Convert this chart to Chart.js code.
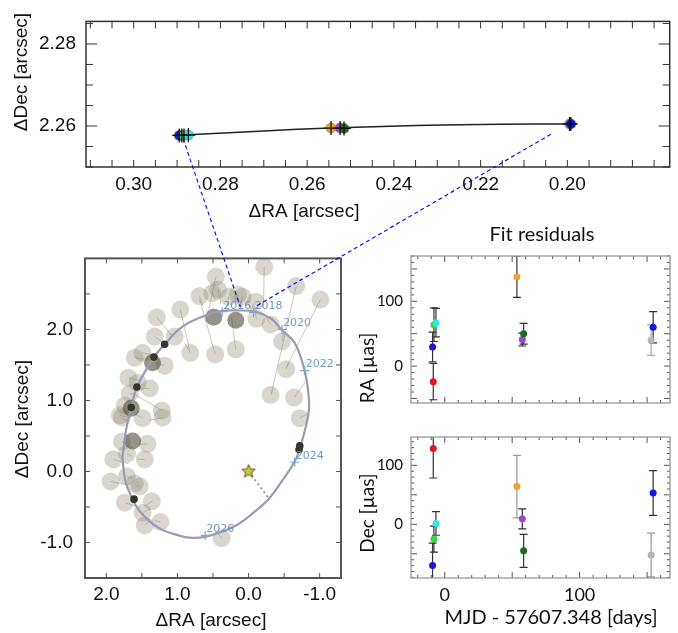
<!DOCTYPE html>
<html>
<head>
<meta charset="utf-8">
<title>Orbit fit and residuals</title>
<script src="https://cdn.jsdelivr.net/npm/chart.js@4.4.1/dist/chart.umd.min.js"></script>
<style>
  body { margin: 0; background: #fff; }
  #page { position: relative; width: 678px; height: 633px; overflow: hidden; }
  #page canvas { position: absolute; }
  #Overlay { pointer-events: none; }
</style>
</head>
<body>
<div id="page">
  <canvas id="Canvas-top"></canvas>
  <canvas id="Canvas-orbit"></canvas>
  <canvas id="Canvas-ra"></canvas>
  <canvas id="Canvas-dec"></canvas>
  <canvas id="Overlay" width="678" height="633"></canvas>
</div>
<script>
//______________________________________________________
// epochs 2016-2017 (red, blue, lime, cyan, orange, purple, dark green, gray, blue)
const EpochColors = ['#e31a1c', '#1a1acc', '#33dd33', '#2ee6ee', '#f5a020', '#a040d4', '#1d6b1d', '#b4b4b4', '#1414e6'];
const ResDays = [-8.5, -9, -8, -6.5, 53.5, 57.5, 58.5, 153, 154.5];
const RaRes   = [-24, 29.5, 64, 67, 138, 41, 50, 40, 60];
const RaErr   = [28, 23, 26, 22, 32, 10, 16, 23.5, 24];
const DecRes  = [128.5, -70, -25, 1.5, 64, 9.3, -45, -52, 53];
const DecErr  = [50, 38, 22, 20, 53, 17, 28, 37, 38];
const RaErrColors  = ['#333', '#333', '#333', '#333', '#333', '#333', '#333', '#aaa', '#333'];
const DecErrColors = ['#333', '#333', '#333', '#333', '#999', '#333', '#333', '#999', '#333'];

// zoomed positions (arcsec)
const TopRA  = [0.2889, 0.2895, 0.2884, 0.2874, 0.2545, 0.2524, 0.2515, 0.1995, 0.1992];
const TopDec = [2.2577, 2.2577, 2.2577, 2.2578, 2.2595, 2.2595, 2.2594, 2.2605, 2.2605];
const TopModelRA  = [0.2885, 0.2700, 0.2545, 0.2350, 0.2153, 0.1992];
const TopModelDec = [2.2578, 2.2588, 2.2595, 2.2601, 2.2604, 2.2605];

// orbit: older measurements (circles) and their model positions
const ObsRA  = [-0.22, 0.46, 0.69, 0.43, 0.51, 0.15, 0.08, -0.10, -0.11, -0.31, -0.67, -1.01, -0.47, -0.53, -0.31, -0.64, -0.72, 0.18, 0.47, 0.82, 0.96, 1.29, 1.04, 1.32, 1.49, 1.60, 1.18, 1.69, 1.56, 1.39, 1.67, 1.74, 1.22, 1.81, 1.49, 1.78, 1.21, 1.78, 1.42, 1.90, 1.71, 1.46, 1.94, 1.71, 1.53, 1.60, 1.74, 1.36, 1.49, 1.24, 1.46, 0.38, 0.28];
const ObsDec = [2.88, 2.74, 2.47, 2.56, 2.51, 2.49, 2.46, 2.39, 2.15, 2.07, 2.61, 2.42, 1.83, 1.44, 1.08, 1.04, 0.75, 1.72, 1.65, 1.67, 2.28, 2.17, 1.90, 1.90, 1.67, 1.60, 1.49, 1.32, 1.25, 1.17, 1.10, 0.93, 0.86, 0.79, 0.75, 0.76, 0.76, 0.42, 0.39, 0.17, 0.25, 0.17, -0.14, -0.07, -0.21, -0.17, -0.44, -0.42, -0.58, -0.71, -0.76, -0.94, 2.46];
const ModRA  = [-0.21, 0.56, 0.64, 0.39, 0.47, 0.14, 0.13, -0.03, -0.08, -0.22, -0.32, -0.53, -0.50, -0.56, -0.36, -0.81, -0.82, 0.24, 0.69, 0.90, 0.83, 1.07, 1.11, 1.22, 1.32, 1.46, 1.32, 1.53, 1.49, 1.50, 1.57, 1.63, 1.57, 1.67, 1.60, 1.69, 1.39, 1.67, 1.53, 1.69, 1.64, 1.56, 1.74, 1.63, 1.57, 1.53, 1.53, 1.46, 1.39, 1.32, 1.39, 0.44, 0.31];
const ModDec = [2.32, 2.28, 2.33, 2.36, 2.42, 2.29, 2.32, 2.28, 2.32, 2.22, 1.10, 1.46, 1.99, 1.53, 1.18, 1.28, 0.81, 2.18, 2.43, 1.81, 1.71, 1.90, 1.94, 1.83, 1.64, 1.58, 1.53, 1.28, 1.22, 1.17, 1.07, 0.90, 1.07, 0.76, 0.81, 0.69, 0.72, 0.39, 0.38, 0.11, 0.21, 0.17, -0.18, -0.10, -0.14, -0.25, -0.51, -0.49, -0.53, -0.69, -0.69, -0.86, 2.29];
const BigRA  = [0.49, 0.18, 1.35, 1.65, 1.63];
const BigDec = [2.17, 2.13, 1.53, 0.89, 0.43];
const DarkRA  = [1.18, 1.33, 1.57, 1.65, 1.61, -0.72, -0.71];
const DarkDec = [1.79, 1.61, 1.19, 0.90, -0.39, 0.36, 0.31];
const OrbitRA  = [0.17, -0.09, -0.32, -0.46, -0.65, -0.79, -0.85, -0.84, -0.72, -0.65, -0.48, -0.28, -0.07, 0.14, 0.38, 0.61, 0.80, 0.95, 1.27, 1.53, 1.65, 1.73, 1.77, 1.76, 1.72, 1.65, 1.57, 1.33, 1.18, 0.93, 0.60, 0.37, 0.17];
const OrbitDec = [2.27, 2.25, 2.15, 2.00, 1.81, 1.41, 1.02, 0.79, 0.32, 0.14, -0.12, -0.39, -0.58, -0.74, -0.85, -0.92, -0.935, -0.91, -0.79, -0.56, -0.35, -0.14, 0.18, 0.30, 0.60, 0.90, 1.19, 1.61, 1.79, 2.04, 2.20, 2.26, 2.27];
const PeriRA  = [0.0, -0.28];
const PeriDec = [0.0, -0.37];
const YearLabels = ['2016', '2018', '2020', '2022', '2024', '2026'];
const YearRA  = [0.37, -0.07, -0.47, -0.79, -0.65, 0.61];
const YearDec = [2.25, 2.24, 2.00, 1.42, 0.13, -0.90];

// dashed connectors: zoom panel point -> orbit panel point
const ConTopRA  = [0.2886, 0.2038];
const ConTopDec = [2.2569, 2.2580];
const ConOrbRA  = [0.115, -0.083];
const ConOrbDec = [2.315, 2.315];

// tick labels
const TopXTicks = [0.30, 0.28, 0.26, 0.24, 0.22, 0.20];
const TopYTicks = [2.28, 2.26];
const OrbXTicks = [2.0, 1.0, 0.0, -1.0];
const OrbYTicks = [2.0, 1.0, 0.0, -1.0];
const ResYTicks = [0, 100];
const ResXTicks = [0, 100];

//______________________________________________________
const Panes = {
  'Canvas-top':   {left: 0,   top: 0,   w: 678, h: 230, pad: {left: 0, top: 11, right: 2, bottom: 0}},
  'Canvas-orbit': {left: 0,   top: 235, w: 350, h: 398, pad: {left: 0, top: 18, right: 6, bottom: 0}},
  'Canvas-ra':    {left: 345, top: 210, w: 333, h: 210, pad: {left: 0, top: 46, right: 8, bottom: 0}},
  'Canvas-dec':   {left: 345, top: 420, w: 333, h: 213, pad: {left: 0, top: 4, right: 8, bottom: 0}}
};
const FontArial = '"Liberation Sans", Arial, sans-serif';
const FontCal = 'Lato, "Open Sans", sans-serif';

const PaneCfg = {
  'Canvas-top': {
    frame: {color: '#333', width: 1.5, xStep: 0.005, xMajor: 0.02, xLen: 7, xLenMaj: 7, yStep: 0.005, yMajor: 0.02, yLen: 7, yLenMaj: 11},
    texts: [
      {t: '\u0394Dec [arcsec]', x: 22, y: 72, rot: true, font: '19px ' + FontArial},
      {t: '\u0394RA [arcsec]', x: 304, y: 212, font: '19px ' + FontArial}
    ]
  },
  'Canvas-orbit': {
    frame: {color: '#555', width: 2, xStep: 0.5, xMajor: 1, xLen: 5, xLenMaj: 5, yStep: 0.5, yMajor: 1, yLen: 5, yLenMaj: 5},
    texts: [
      {t: '\u0394Dec [arcsec]', x: 23, y: 184, rot: true, font: '19px ' + FontArial},
      {t: '\u0394RA [arcsec]', x: 211, y: 386, font: '19px ' + FontArial}
    ],
    years: true
  },
  'Canvas-ra': {
    frame: {color: '#999', width: 1.3, tick: '#555', xStep: 10, xMajor: 50, xLen: 3, xLenMaj: 6, yStep: 10, yMajor: 50, yLen: 3, yLenMaj: 6},
    texts: [
      {t: 'Fit residuals', x: 197, y: 25, font: '20px ' + FontCal},
      {t: 'RA [\u00b5as]', x: 23, y: 158, rot: true, font: '19px ' + FontCal}
    ],
    err: {vals: RaRes, errs: RaErr, colors: RaErrColors}
  },
  'Canvas-dec': {
    frame: {color: '#999', width: 1.3, tick: '#555', xStep: 10, xMajor: 50, xLen: 3, xLenMaj: 6, yStep: 10, yMajor: 50, yLen: 3, yLenMaj: 6},
    texts: [
      {t: 'Dec [\u00b5as]', x: 23, y: 93, rot: true, font: '19px ' + FontCal},
      {t: 'MJD - 57607.348 [days]', x: 206, y: 198, font: '20px ' + FontCal}
    ],
    err: {vals: DecRes, errs: DecErr, colors: DecErrColors}
  }
};

//______________________________________________________
function pts(xs, ys) { return xs.map(function (v, i) { return {x: v, y: ys[i]}; }); }

function segs(x1, y1, x2, y2) { // obs -> model segments, broken by gaps
  var out = [];
  x1.forEach(function (v, i) {
    out.push({x: v, y: y1[i]}, {x: x2[i], y: y2[i]}, {x: x2[i], y: null});
  });
  return out;
}

function axis(min, max, vals, fmt, font, pad, size, rev) {
  return {
    type: 'linear', min: min, max: max, reverse: !!rev,
    grid: {display: false, drawTicks: false},
    border: {display: false},
    ticks: {display: vals.length > 0, padding: pad, color: '#111', autoSkip: false, maxRotation: 0,
            font: font, callback: fmt},
    afterBuildTicks: function (s) { s.ticks = vals.map(function (v) { return {value: v}; }); },
    afterFit: function (s) { if (s.isHorizontal()) { s.height = size; } else { s.width = size; } }
  };
}

function makeStar(r) {
  var c = document.createElement('canvas');
  c.width = c.height = 2 * r + 4;
  var g = c.getContext('2d');
  g.beginPath();
  for (var i = 0; i < 10; i++) {
    var rr = (i % 2) ? r * 0.45 : r;
    var a = -Math.PI / 2 + i * Math.PI / 5;
    g.lineTo(r + 2 + rr * Math.cos(a), r + 2 + rr * Math.sin(a));
  }
  g.closePath();
  g.fillStyle = '#c9c838'; g.fill();
  g.strokeStyle = '#5c5c1e'; g.lineWidth = 1; g.stroke();
  return c;
}

//______________________________________________________
function drawTicks(ctx, scale, area, step, major, len, lenMaj, horiz) {
  var k0 = Math.ceil(scale.min / step - 1e-6), k1 = Math.floor(scale.max / step + 1e-6);
  for (var k = k0; k <= k1; k++) {
    var v = k * step;
    var l = (Math.abs(v / major - Math.round(v / major)) < 1e-6) ? lenMaj : len;
    var p = scale.getPixelForValue(v);
    ctx.beginPath();
    if (horiz) {
      ctx.moveTo(p, area.bottom); ctx.lineTo(p, area.bottom - l);
      ctx.moveTo(p, area.top); ctx.lineTo(p, area.top + l);
    } else {
      ctx.moveTo(area.left, p); ctx.lineTo(area.left + l, p);
      ctx.moveTo(area.right, p); ctx.lineTo(area.right - l, p);
    }
    ctx.stroke();
  }
}

function drawFrame(chart, f) {
  var ctx = chart.ctx, a = chart.chartArea;
  ctx.save();
  ctx.strokeStyle = f.tick || f.color;
  ctx.lineWidth = 1;
  drawTicks(ctx, chart.scales.x, a, f.xStep, f.xMajor, f.xLen, f.xLenMaj, true);
  drawTicks(ctx, chart.scales.y, a, f.yStep, f.yMajor, f.yLen, f.yLenMaj, false);
  ctx.strokeStyle = f.color;
  ctx.lineWidth = f.width;
  ctx.strokeRect(a.left, a.top, a.right - a.left, a.bottom - a.top);
  ctx.restore();
}

function drawErrors(chart, e) { // vertical error bars with caps
  var ctx = chart.ctx, a = chart.chartArea, xs = chart.scales.x, ys = chart.scales.y;
  ctx.save();
  ctx.beginPath(); ctx.rect(a.left, a.top, a.right - a.left, a.bottom - a.top); ctx.clip();
  ctx.lineWidth = 1.2;
  for (var i = 0; i < e.vals.length; i++) {
    var x = xs.getPixelForValue(ResDays[i]);
    var y1 = ys.getPixelForValue(e.vals[i] + e.errs[i]);
    var y2 = ys.getPixelForValue(e.vals[i] - e.errs[i]);
    ctx.strokeStyle = e.colors[i];
    ctx.beginPath();
    ctx.moveTo(x, y1); ctx.lineTo(x, y2);
    ctx.moveTo(x - 4, y1); ctx.lineTo(x + 4, y1);
    ctx.moveTo(x - 4, y2); ctx.lineTo(x + 4, y2);
    ctx.stroke();
  }
  ctx.restore();
}

function drawYears(chart) {
  var ctx = chart.ctx, xs = chart.scales.x, ys = chart.scales.y;
  ctx.save();
  ctx.font = '11px "DejaVu Sans", sans-serif';
  ctx.fillStyle = '#6d9dbf';
  ctx.textAlign = 'left';
  ctx.textBaseline = 'middle';
  YearLabels.forEach(function (lab, i) {
    ctx.fillText(lab, xs.getPixelForValue(YearRA[i]) + 1, ys.getPixelForValue(YearDec[i]) - 6);
  });
  ctx.restore();
}

function drawTexts(chart, items) {
  var ctx = chart.ctx;
  items.forEach(function (it) {
    ctx.save();
    ctx.font = it.font;
    ctx.fillStyle = '#111';
    ctx.textAlign = 'center';
    ctx.textBaseline = 'middle';
    ctx.translate(it.x, it.y);
    if (it.rot) { ctx.rotate(-Math.PI / 2); }
    ctx.fillText(it.t, 0, 0);
    ctx.restore();
  });
}

const PanePlugin = {
  id: 'pane',
  beforeDatasetsDraw: function (chart) {
    var c = PaneCfg[chart.canvas.id];
    if (c.err) { drawErrors(chart, c.err); }
  },
  afterDatasetsDraw: function (chart) {
    var c = PaneCfg[chart.canvas.id];
    drawFrame(chart, c.frame);
    if (c.years) { drawYears(chart); }
  },
  afterDraw: function (chart) { drawTexts(chart, PaneCfg[chart.canvas.id].texts); }
};

//______________________________________________________
function makeChart(id, datasets, xAxis, yAxis) {
  var p = Panes[id];
  var cv = document.getElementById(id);
  cv.width = p.w; cv.height = p.h;
  cv.style.left = p.left + 'px'; cv.style.top = p.top + 'px';
  return new Chart(cv, {
    type: 'scatter',
    data: {datasets: datasets},
    options: {
      responsive: false, animation: false, events: [],
      layout: {padding: p.pad},
      plugins: {legend: {display: false}, tooltip: {enabled: false}},
      scales: {x: xAxis, y: yAxis}
    },
    plugins: [PanePlugin]
  });
}

function drawConnectors(chTop, chOrb) {
  var ctx = document.getElementById('Overlay').getContext('2d');
  var pt = Panes['Canvas-top'], po = Panes['Canvas-orbit'];
  ctx.strokeStyle = '#1010f0';
  ctx.lineWidth = 1.2;
  ctx.setLineDash([4, 3]);
  for (var i = 0; i < ConTopRA.length; i++) {
    ctx.beginPath();
    ctx.moveTo(pt.left + chTop.scales.x.getPixelForValue(ConTopRA[i]), pt.top + chTop.scales.y.getPixelForValue(ConTopDec[i]));
    ctx.lineTo(po.left + chOrb.scales.x.getPixelForValue(ConOrbRA[i]), po.top + chOrb.scales.y.getPixelForValue(ConOrbDec[i]));
    ctx.stroke();
  }
}

//______________________________________________________
function initApp() {
  var fTick = {family: FontArial, size: 19};
  var fmt2 = function (v) { return v.toFixed(2); };
  var fmt1 = function (v) { return v.toFixed(1); };
  var fmt0 = function (v) { return String(v); };

  var chTop = makeChart('Canvas-top', [
    {data: pts(TopRA, TopDec), pointStyle: 'cross', pointRadius: 7, pointBorderColor: '#111', pointBorderWidth: 1.3, order: 1},
    {data: pts(TopRA, TopDec), pointRadius: 5, pointBackgroundColor: EpochColors, pointBorderColor: 'rgba(120,120,120,0.35)', pointBorderWidth: 1.5, order: 2},
    {data: pts(TopModelRA, TopModelDec), showLine: true, borderColor: '#222', borderWidth: 1.5, tension: 0.4, pointRadius: 0, order: 3}
  ], axis(0.1764, 0.311, TopXTicks, fmt2, fTick, 6, 63, true),
     axis(2.25, 2.2855, TopYTicks, fmt2, fTick, 10, 86));

  var chOrb = makeChart('Canvas-orbit', [
    {data: pts([0], [0]), pointStyle: makeStar(7), pointRadius: 7, order: 0},
    {data: pts(YearRA, YearDec), pointStyle: 'cross', pointRadius: 4.5, pointBorderColor: '#7aa7c7', pointBorderWidth: 1.2, order: 1},
    {data: pts(DarkRA, DarkDec), pointRadius: 3.8, pointBackgroundColor: '#35352a', pointBorderWidth: 0, order: 2},
    {data: pts(PeriRA, PeriDec), showLine: true, borderColor: '#8a8a96', borderWidth: 1.6, borderDash: [2, 3], pointRadius: 0, order: 3},
    {data: pts(OrbitRA, OrbitDec), showLine: true, borderColor: '#9c99b2', borderWidth: 2.2, tension: 0.4, pointRadius: 0, order: 4},
    {data: pts(BigRA, BigDec), pointRadius: 8.5, pointBackgroundColor: 'rgba(85,83,64,0.62)', pointBorderWidth: 0, order: 5},
    {data: pts(ObsRA, ObsDec), pointRadius: 9, pointBackgroundColor: 'rgba(140,135,115,0.34)', pointBorderWidth: 0, order: 6},
    {data: segs(ObsRA, ObsDec, ModRA, ModDec), showLine: true, borderColor: 'rgba(150,145,130,0.5)', borderWidth: 1, pointRadius: 0, order: 7}
  ], axis(-1.3, 2.3, OrbXTicks, fmt1, fTick, 5, 55, true),
     axis(-1.5, 3.0, OrbYTicks, fmt1, fTick, 12, 85));

  makeChart('Canvas-ra', [
    {data: pts(ResDays, RaRes), pointRadius: 3.5, pointBackgroundColor: EpochColors, pointBorderWidth: 0}
  ], axis(-25, 167, [], fmt0, {family: FontCal, size: 18}, 6, 11),
     axis(-57, 170, ResYTicks, fmt0, {family: FontCal, size: 15}, 8, 66));

  makeChart('Canvas-dec', [
    {data: pts(ResDays, DecRes), pointRadius: 3.5, pointBackgroundColor: EpochColors, pointBorderWidth: 0}
  ], axis(-25, 167, ResXTicks, fmt0, {family: FontCal, size: 18}, 6, 55),
     axis(-91, 148, ResYTicks, fmt0, {family: FontCal, size: 15}, 8, 66));

  drawConnectors(chTop, chOrb);
}

initApp();
</script>
</body>
</html>
